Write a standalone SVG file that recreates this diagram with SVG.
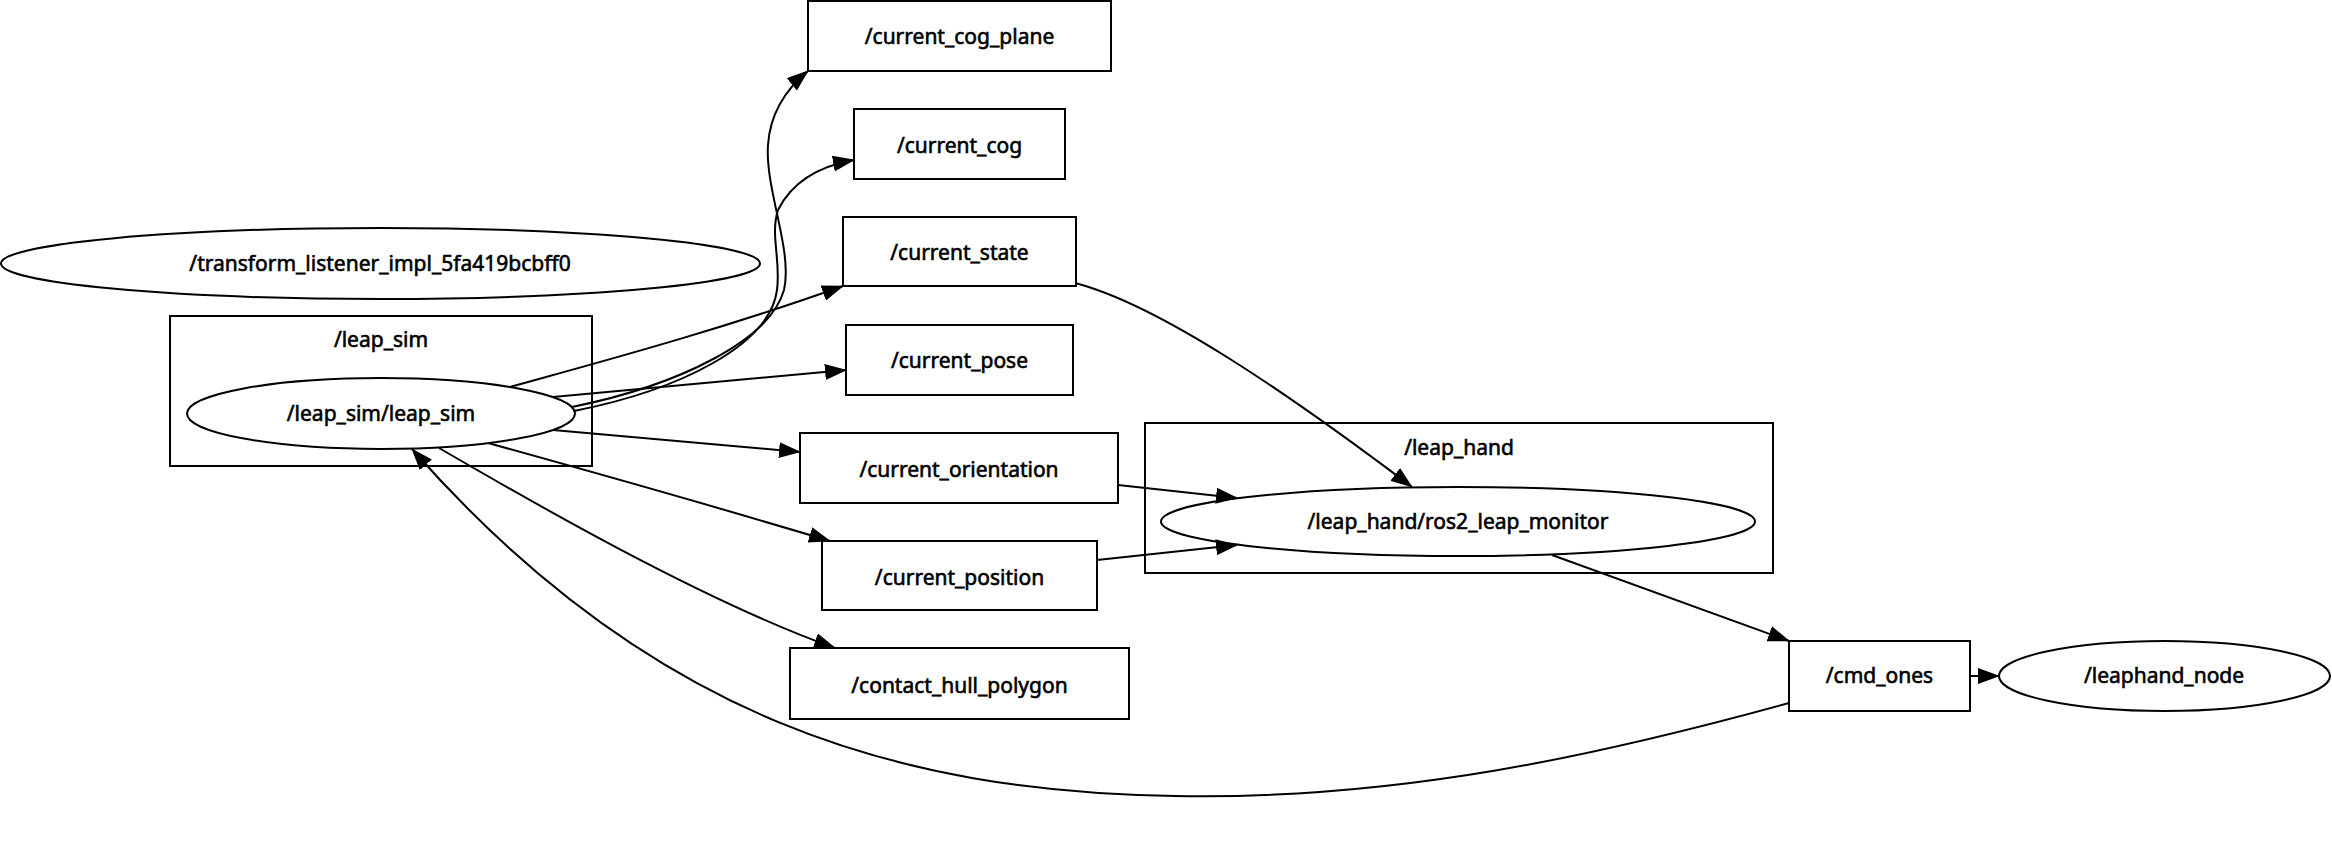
<svg xmlns="http://www.w3.org/2000/svg" width="2332" height="862" viewBox="0 0 2332 862">
<style>
  .shape { fill: none; stroke: #000; stroke-width: 2; }
  .edge { fill: none; stroke: #000; stroke-width: 2; marker-end: url(#arrow); }
  text { font-family: "Noto Sans", "Open Sans", sans-serif; font-size: 21px; fill: #000; stroke: #000; stroke-width: 0.6; text-anchor: middle; }
</style>
<defs>
  <marker id="arrow" markerUnits="userSpaceOnUse" viewBox="0 0 22 16" markerWidth="22" markerHeight="16" refX="21" refY="8" orient="auto">
    <path d="M0,0 L22,8 L0,16 Z" fill="#000"/>
  </marker>
</defs>
<rect width="2332" height="862" fill="#fff"/>

<g id="cluster_leap_sim">
  <rect class="shape" x="170" y="316" width="422" height="150"/>
  <text x="381" y="347">/leap_sim</text>
</g>
<g id="cluster_leap_hand">
  <rect class="shape" x="1145" y="423" width="628" height="150"/>
  <text x="1459" y="455">/leap_hand</text>
</g>

<g id="node_transform_listener">
  <ellipse class="shape" cx="380.5" cy="263.5" rx="379.5" ry="35.5"/>
  <text x="380" y="271">/transform_listener_impl_5fa419bcbff0</text>
</g>
<g id="node_leap_sim">
  <ellipse class="shape" cx="381" cy="413.5" rx="194" ry="35.5"/>
  <text x="381" y="421">/leap_sim/leap_sim</text>
</g>
<g id="topic_current_cog_plane">
  <rect class="shape" x="808" y="1" width="303" height="70"/>
  <text x="959.5" y="44">/current_cog_plane</text>
</g>
<g id="topic_current_cog">
  <rect class="shape" x="854" y="109" width="211" height="70"/>
  <text x="959.5" y="153">/current_cog</text>
</g>
<g id="topic_current_state">
  <rect class="shape" x="843" y="217" width="233" height="69"/>
  <text x="959.5" y="260">/current_state</text>
</g>
<g id="topic_current_pose">
  <rect class="shape" x="846" y="325" width="227" height="70"/>
  <text x="959.5" y="368">/current_pose</text>
</g>
<g id="topic_current_orientation">
  <rect class="shape" x="800" y="433" width="318" height="70"/>
  <text x="959" y="477">/current_orientation</text>
</g>
<g id="topic_current_position">
  <rect class="shape" x="822" y="541" width="275" height="69"/>
  <text x="959.5" y="585">/current_position</text>
</g>
<g id="topic_contact_hull_polygon">
  <rect class="shape" x="790" y="648" width="339" height="71"/>
  <text x="959.5" y="693">/contact_hull_polygon</text>
</g>
<g id="node_ros2_leap_monitor">
  <ellipse class="shape" cx="1458" cy="521.5" rx="297" ry="34.5"/>
  <text x="1458" y="529">/leap_hand/ros2_leap_monitor</text>
</g>
<g id="topic_cmd_ones">
  <rect class="shape" x="1789" y="641" width="181" height="70"/>
  <text x="1879.5" y="683">/cmd_ones</text>
</g>
<g id="node_leaphand_node">
  <ellipse class="shape" cx="2164.5" cy="676" rx="165.5" ry="35"/>
  <text x="2164" y="683">/leaphand_node</text>
</g>

<g id="connectors">
  <path class="edge" d="M572,407 C680,385 770,340 784,290 C793,250 765,190 768,145 C770,115 785,90 808,71"/>
  <path class="edge" d="M574,411 C680,390 770,345 777,290 C781,260 770,235 778,210 C792,182 820,166 854,160"/>
  <path class="edge" d="M510,387 C600,362 720,330 843,286"/>
  <path class="edge" d="M553,397 L846,370"/>
  <path class="edge" d="M553,430 L800,452"/>
  <path class="edge" d="M488,443 C600,474 720,508 830,541"/>
  <path class="edge" d="M439,448 C520,495 700,600 835,648"/>
  <path class="edge" d="M1075,283 C1160,305 1290,395 1412,487"/>
  <path class="edge" d="M1118,485 L1237,498"/>
  <path class="edge" d="M1097,560 L1237,545"/>
  <path class="edge" d="M1552,555 L1789,641"/>
  <path class="edge" d="M1970,676 L1999,676"/>
  <path class="edge" d="M1789,703 C1600,755 1400,800 1175,796 C900,792 650,720 412,449"/>
</g>
</svg>
